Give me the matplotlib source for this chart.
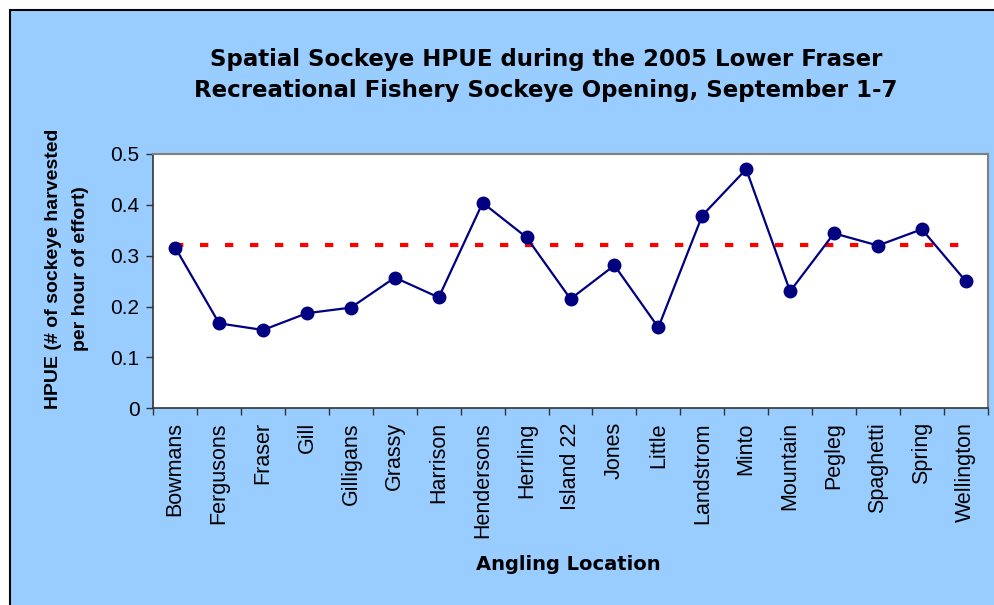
import matplotlib
matplotlib.use("Agg")
import matplotlib.pyplot as plt
from matplotlib.patches import Rectangle

locations = ["Bowmans", "Fergusons", "Fraser", "Gill", "Gilligans", "Grassy",
             "Harrison", "Hendersons", "Herrling", "Island 22", "Jones", "Little",
             "Landstrom", "Minto", "Mountain", "Pegleg", "Spaghetti", "Spring",
             "Wellington"]
hpue = [0.316, 0.167, 0.154, 0.187, 0.198, 0.257, 0.218, 0.404, 0.336, 0.215,
        0.281, 0.159, 0.379, 0.470, 0.230, 0.344, 0.320, 0.352, 0.250]
mean_hpue = 0.321

plt.rcParams["font.family"] = ["Liberation Sans", "DejaVu Sans"]

fig = plt.figure(figsize=(9.94, 6.05), dpi=100)
fig.patch.set_facecolor("white")
# chart area with black border, starting just inside the top-left corner
fig.patches.append(Rectangle((10 / 994, -0.05), 1.1, 1 - 10 / 605 + 0.05,
                             transform=fig.transFigure, facecolor="#99CCFF",
                             edgecolor="black", linewidth=1.5, zorder=-5))

ax = fig.add_axes([0.1542, 0.3251, 0.8395, 0.4204])
ax.set_facecolor("white")
x = list(range(len(locations)))
ax.plot(x, [mean_hpue] * len(x), color="red", linewidth=3, dashes=(2, 4),
        zorder=2)
ax.plot(x, hpue, "-o", color="#000080", linewidth=1.6, markersize=9, zorder=3)

ax.set_xlim(-0.5, len(locations) - 0.5)
ax.set_ylim(0, 0.5)
ax.set_yticks([0, 0.1, 0.2, 0.3, 0.4, 0.5])
ax.set_yticklabels(["0", "0.1", "0.2", "0.3", "0.4", "0.5"])
ax.set_xticks([i - 0.5 for i in range(len(locations) + 1)])
ax.set_xticklabels([])
ax.set_xticks(x, minor=True)
ax.set_xticklabels(locations, minor=True, rotation=90, fontsize=15.5)
ax.tick_params(axis="x", which="minor", length=0, pad=10)
ax.tick_params(axis="x", which="major", length=5, width=1, color="#333333",
               direction="out")
ax.tick_params(axis="y", length=5, width=1, color="#333333", labelsize=15,
               pad=5)
for side in ["top", "right"]:
    ax.spines[side].set_color("#808080")
    ax.spines[side].set_linewidth(1.5)
for side in ["left", "bottom"]:
    ax.spines[side].set_color("#333333")
    ax.spines[side].set_linewidth(1.2)

fig.text(0.549, 1 - 75 / 605,
         "Spatial Sockeye HPUE during the 2005 Lower Fraser\n"
         "Recreational Fishery Sockeye Opening, September 1-7",
         ha="center", va="center", fontsize=16.5, fontweight="bold",
         family="DejaVu Sans", linespacing=1.45)
fig.text(0.572, 1 - 565 / 605, "Angling Location", ha="center", va="center",
         fontsize=14, fontweight="bold", family="DejaVu Sans")
fig.text(67 / 994, 1 - 269 / 605,
         "HPUE (# of sockeye harvested\nper hour of effort)",
         ha="center", va="center", rotation=90, fontsize=14,
         fontweight="bold", linespacing=1.7)

fig.savefig("out.png", dpi=100)
